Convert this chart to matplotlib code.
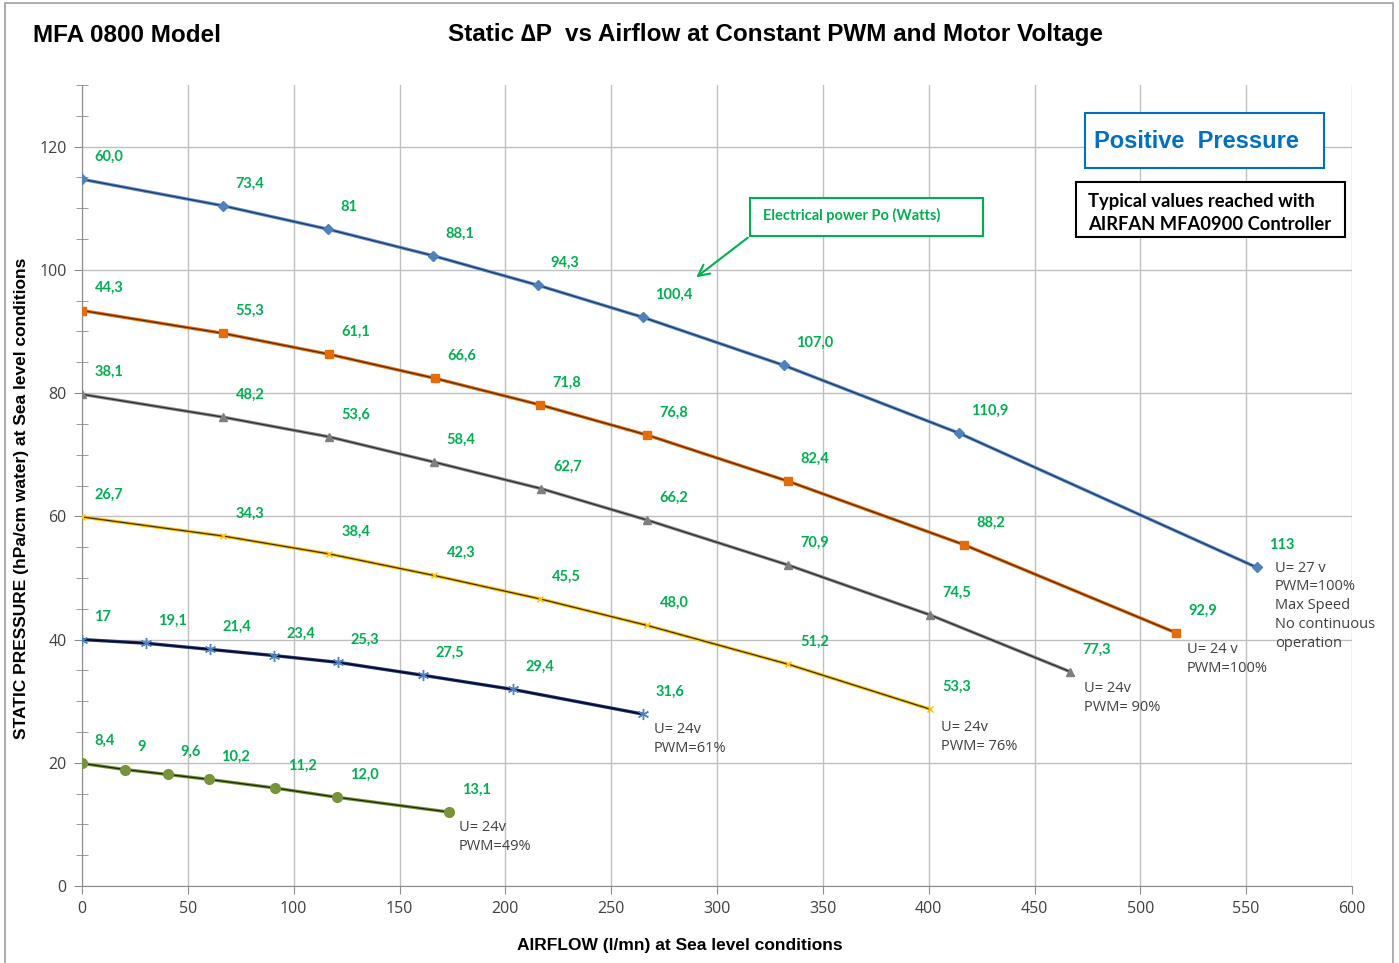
import matplotlib
matplotlib.use("Agg")
import matplotlib.pyplot as plt
from matplotlib.ticker import MultipleLocator
from matplotlib.patches import Rectangle, FancyArrowPatch

# ---- data ----
s1_x = [0, 66.6, 116.2, 165.8, 215.4, 265.0, 331.6, 414.3, 555.0]
s1_y = [114.7, 110.4, 106.6, 102.3, 97.5, 92.3, 84.5, 73.5, 51.7]
s1_lab = ["60,0", "73,4", "81", "88,1", "94,3", "100,4", "107,0", "110,9", "113"]

s2_x = [0, 66.6, 116.7, 166.7, 216.3, 266.9, 333.5, 416.6, 516.8]
s2_y = [93.4, 89.7, 86.3, 82.4, 78.1, 73.2, 65.7, 55.4, 41.1]
s2_lab = ["44,3", "55,3", "61,1", "66,6", "71,8", "76,8", "82,4", "88,2", "92,9"]

s3_x = [0, 66.6, 116.7, 166.3, 216.8, 266.9, 333.5, 400.6, 466.7]
s3_y = [79.8, 76.1, 72.9, 68.8, 64.5, 59.4, 52.1, 44.0, 34.8]
s3_lab = ["38,1", "48,2", "53,6", "58,4", "62,7", "66,2", "70,9", "74,5", "77,3"]

s4_x = [0, 66.6, 116.7, 166.3, 216.3, 266.9, 333.5, 400.6]
s4_y = [59.9, 56.8, 53.9, 50.4, 46.6, 42.3, 36.0, 28.7]
s4_lab = ["26,7", "34,3", "38,4", "42,3", "45,5", "48,0", "51,2", "53,3"]

s5_x = [0, 30.2, 60.5, 90.7, 120.9, 161.1, 203.6, 265.0]
s5_y = [40.0, 39.4, 38.4, 37.4, 36.3, 34.2, 31.9, 27.9]
s5_lab = ["17", "19,1", "21,4", "23,4", "25,3", "27,5", "29,4", "31,6"]

s6_x = [0, 20.3, 40.6, 60.0, 91.2, 120.5, 173.4]
s6_y = [19.9, 18.9, 18.1, 17.3, 15.9, 14.4, 12.0]
s6_lab = ["8,4", "9", "9,6", "10,2", "11,2", "12,0", "13,1"]

end_notes = [
    "U= 27 v\nPWM=100%\nMax Speed\nNo continuous\noperation",
    "U= 24 v\nPWM=100%",
    "U= 24v\nPWM= 90%",
    "U= 24v\nPWM= 76%",
    "U= 24v\nPWM=61%",
    "U= 24v\nPWM=49%",
]

GREEN = "#00B050"

fig = plt.figure(figsize=(13.99, 9.63), dpi=100)
ax = fig.add_axes([82/1399, 1-886/963, (1352-82)/1399, (886-85)/963])

series = [
    (s1_x, s1_y, s1_lab, "#5B8CC8", "#1F3864", "D", 5, "#4F81BD"),
    (s2_x, s2_y, s2_lab, "#E46C0A", "#5A2A00", "s", 6, "#E46C0A"),
    (s3_x, s3_y, s3_lab, "#8C8C8C", "#2B2B2B", "^", 6, "#7F7F7F"),
    (s4_x, s4_y, s4_lab, "#FFC000", "#3A3000", "x", 5, "#FFC000"),
    (s5_x, s5_y, s5_lab, "#1F3864", "#000033", (6, 2, 0), 8, "#4F81BD"),
    (s6_x, s6_y, s6_lab, "#77933C", "#1A2A00", "o", 7, "#77933C"),
]

for xs, ys, labs, col, dark, mk, ms, mcol in series:
    ax.plot(xs, ys, color=col, lw=2.4, zorder=3, solid_capstyle="round")
    ax.plot(xs, ys, color=dark, lw=0.9, zorder=4)
    ax.plot(xs, ys, ls="none", marker=mk, ms=ms, color=mcol, mec=mcol,
            mew=1.0, zorder=5)
    for x, y, t in zip(xs, ys, labs):
        ax.annotate(t, (x, y), xytext=(9, 16), textcoords="offset points",
                    ha="left", va="center", color=GREEN, fontsize=10.5,
                    fontweight="bold", family="Lato", zorder=6)

# end notes next to the last point of each series
note_pos = [(s1_x[-1], s1_y[-1]), (s2_x[-1], s2_y[-1]), (s3_x[-1], s3_y[-1]),
            (s4_x[-1], s4_y[-1]), (s5_x[-1], s5_y[-1]), (s6_x[-1], s6_y[-1])]
note_off = [(13, 5), (8, -7), (10, -7), (8, -8), (8, -6), (7, -6)]
for (x, y), t, off in zip(note_pos, end_notes, note_off):
    ax.annotate(t, (x, y), xytext=off, textcoords="offset points",
                ha="left", va="top", color="#404040", fontsize=10.5,
                family="Open Sans", linespacing=1.35, zorder=6)

ax.set_xlim(0, 600)
ax.set_ylim(0, 130)
ax.xaxis.set_major_locator(MultipleLocator(50))
ax.yaxis.set_major_locator(MultipleLocator(20))
ax.yaxis.set_minor_locator(MultipleLocator(5))
ax.grid(True, which="major", color="#BFBFBF", lw=1.0, zorder=0)
ax.set_axisbelow(True)
for sp in ["top", "right"]:
    ax.spines[sp].set_visible(False)
for sp in ["left", "bottom"]:
    ax.spines[sp].set_color("#8C8C8C")
ax.tick_params(axis="both", which="major", length=6, color="#8C8C8C",
               labelsize=11.5, labelcolor="#404040", pad=5)
ax.tick_params(axis="y", which="minor", direction="inout", length=8,
               color="#8C8C8C")
for lab in ax.get_xticklabels() + ax.get_yticklabels():
    lab.set_family("Open Sans")

fig.text(680/1399, 1-945/963, "AIRFLOW (l/mn) at Sea level conditions",
         fontsize=12.5, fontweight="bold", family="Liberation Sans",
         ha="center", va="center")
fig.text(22/1399, 1-498/963,
         "STATIC PRESSURE (hPa/cm water) at Sea level conditions",
         fontsize=12.5, fontweight="bold", family="Liberation Sans",
         ha="center", va="center", rotation=90)

fig.text(33/1399, 1-35/963, "MFA 0800 Model", fontsize=17.5, fontweight="bold",
         family="Liberation Sans", ha="left", va="center")
fig.text(775/1399, 1-35/963, "Static \u2206P  vs Airflow at Constant PWM and Motor Voltage",
         fontsize=17.5, fontweight="bold", family="Liberation Sans",
         ha="center", va="center")

# boxes
def px_box(x0, y0, x1, y1, ec, lw):
    fig.patches.append(Rectangle((x0/1399, 1-y1/963), (x1-x0)/1399, (y1-y0)/963,
                                 transform=fig.transFigure, fill=True,
                                 fc="white", ec=ec, lw=lw, zorder=5))

px_box(1085, 113, 1324, 168, "#0070C0", 1.5)
fig.text(1196/1399, 1-142/963, "Positive  Pressure", color="#0070C0",
         fontsize=17, fontweight="bold", family="Liberation Sans",
         ha="center", va="center", zorder=6)
px_box(1076, 182, 1345, 237, "#000000", 1.5)
fig.text(1088/1399, 1-213/963, "Typical values reached with\nAIRFAN MFA0900 Controller",
         color="black", fontsize=13.2, fontweight="bold", family="Lato",
         ha="left", va="center", linespacing=1.4, zorder=6)
px_box(750, 198, 983, 236, GREEN, 1.5)
fig.text(763/1399, 1-215/963, "Electrical power Po (Watts)", color=GREEN,
         fontsize=10.5, fontweight="bold", family="Lato", ha="left",
         va="center", zorder=6)
fig.patches.append(FancyArrowPatch(
    (750/1399, 1-236/963), (694/1399, 1-279/963), transform=fig.transFigure,
    arrowstyle="->,head_length=8,head_width=4", color=GREEN, lw=1.5, zorder=6))

# outer border
fig.patches.append(Rectangle((5/1399, -0.01), (1393-5)/1399, (963-3)/963 + 0.01,
                             transform=fig.transFigure, fill=False,
                             ec="#A0A0A0", lw=1.2, zorder=0))

fig.savefig("out.png", dpi=100)
